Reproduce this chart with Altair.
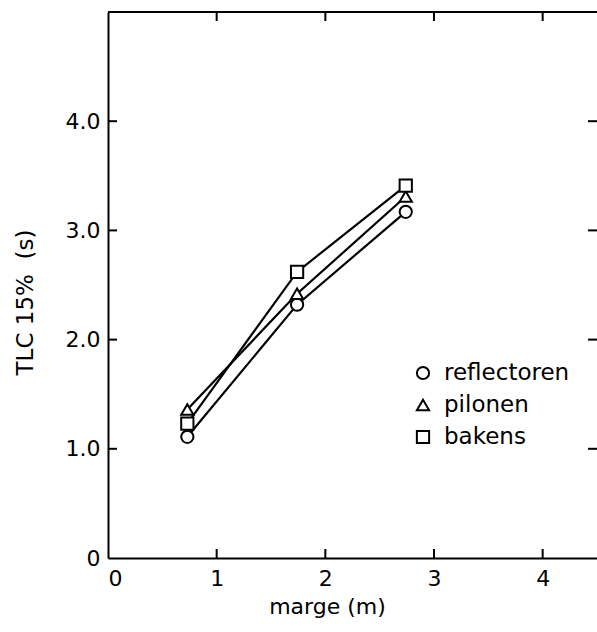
import altair as alt
import pandas as pd

# ---- data ----
series_names = ["reflectoren", "pilonen", "bakens"]
shapes = ["circle", "triangle-up", "square"]
marge = [0.73, 1.74, 2.74]
reflectoren = [1.11, 2.32, 3.17]
pilonen = [1.36, 2.42, 3.31]
bakens = [1.23, 2.62, 3.41]

x_ticks = [1, 2, 3, 4]
y_ticks = [1, 2, 3, 4]
x_domain = [0, 4.5]
y_domain = [0, 5]

rows = []
for name, vals in zip(series_names, [reflectoren, pilonen, bakens]):
    for xv, yv in zip(marge, vals):
        rows.append({"serie": name, "marge": xv, "tlc": yv})
df = pd.DataFrame(rows)
leg_df = pd.DataFrame({"serie": series_names, "idx": list(range(len(series_names)))})

W = 489
H = 546
FONT = "DejaVu Sans"
TL = 9  # tick length
MS = 150  # marker size

# legend layout (pixels inside the plot area)
LEG_SYM_X = 315
LEG_TXT_X = 336
LEG_Y0 = 361
LEG_DY = 32

xs = alt.Scale(domain=x_domain, nice=False, zero=False)
ys = alt.Scale(domain=y_domain, nice=False, zero=False)
shape_scale = alt.Scale(domain=series_names, range=shapes)

base = alt.Chart(df)

lines = base.mark_line(color="black", strokeWidth=2.2).encode(
    x=alt.X("marge:Q", scale=xs,
            axis=alt.Axis(values=[0, 1, 2, 3, 4], format="d", ticks=False,
                          domainColor="black", domainWidth=2,
                          labelFont=FONT, labelFontSize=22, labelColor="black",
                          labelPadding=10, grid=False,
                          title="marge (m)", titleFont=FONT, titleFontSize=22,
                          titleFontWeight="normal", titleColor="black",
                          titleX=219, titleY=48, titleBaseline="middle",
                          titleAnchor="start", titleAlign="center")),
    y=alt.Y("tlc:Q", scale=ys,
            axis=alt.Axis(values=[0, 1, 2, 3, 4], ticks=False,
                          labelExpr="datum.value == 0 ? '0' : format(datum.value, '.1f')",
                          domainColor="black", domainWidth=2,
                          labelFont=FONT, labelFontSize=22, labelColor="black",
                          labelPadding=8, grid=False,
                          title="TLC 15%\u00a0 (s)", titleFont=FONT, titleFontSize=23,
                          titleFontWeight="normal", titleColor="black",
                          titleX=-83, titleY=290, titleBaseline="middle",
                          titleAnchor="start", titleAlign="center", titleAngle=270)),
    detail="serie:N",
    order="marge:Q",
)

points = base.mark_point(filled=True, fill="white", stroke="black",
                         strokeWidth=2, size=MS, opacity=1).encode(
    x=alt.X("marge:Q", scale=xs),
    y=alt.Y("tlc:Q", scale=ys),
    shape=alt.Shape("serie:N", scale=shape_scale, legend=None),
)

# legend drawn as marks
leg_base = alt.Chart(leg_df).transform_calculate(
    ly=f"{LEG_Y0} + datum.idx * {LEG_DY}")
leg_sym = leg_base.mark_point(filled=True, fill="white", stroke="black",
                              strokeWidth=2, size=MS, opacity=1).encode(
    x=alt.value(LEG_SYM_X),
    y=alt.Y("ly:Q", scale=None),
    shape=alt.Shape("serie:N", scale=shape_scale, legend=None),
)
leg_txt = leg_base.mark_text(align="left", baseline="middle", font=FONT,
                             fontSize=23, color="black").encode(
    x=alt.value(LEG_TXT_X),
    y=alt.Y("ly:Q", scale=None),
    text="serie:N",
)

# frame top edge (from data domain values)
top_df = pd.DataFrame({"x0": [x_domain[0]], "x1": [x_domain[1]], "y": [y_domain[1]]})
top_edge = alt.Chart(top_df).mark_rule(color="black", strokeWidth=2).encode(
    x=alt.X("x0:Q", scale=xs), x2="x1:Q", y=alt.Y("y:Q", scale=ys))

xt = pd.DataFrame({"v": x_ticks})
yt = pd.DataFrame({"v": y_ticks})

bottom_ticks = alt.Chart(xt).mark_rule(color="black", strokeWidth=2).encode(
    x=alt.X("v:Q", scale=xs), y=alt.value(H), y2=alt.value(H - TL))
top_ticks = alt.Chart(xt).mark_rule(color="black", strokeWidth=2).encode(
    x=alt.X("v:Q", scale=xs), y=alt.value(0), y2=alt.value(TL))
left_ticks = alt.Chart(yt).mark_rule(color="black", strokeWidth=2).encode(
    y=alt.Y("v:Q", scale=ys), x=alt.value(0), x2=alt.value(TL))
right_ticks = alt.Chart(yt).mark_rule(color="black", strokeWidth=2).encode(
    y=alt.Y("v:Q", scale=ys), x=alt.value(W), x2=alt.value(W - TL))

chart = alt.layer(lines, points, top_edge, bottom_ticks, top_ticks,
                  left_ticks, right_ticks, leg_sym, leg_txt).properties(
    width=W, height=H,
    autosize=alt.AutoSizeParams(type="none"),
    padding={"left": 108, "top": 12, "right": 0, "bottom": 74},
    background="white",
).configure_view(stroke=None)

chart.save("out.html", embed_options={"renderer": "svg", "actions": False})
